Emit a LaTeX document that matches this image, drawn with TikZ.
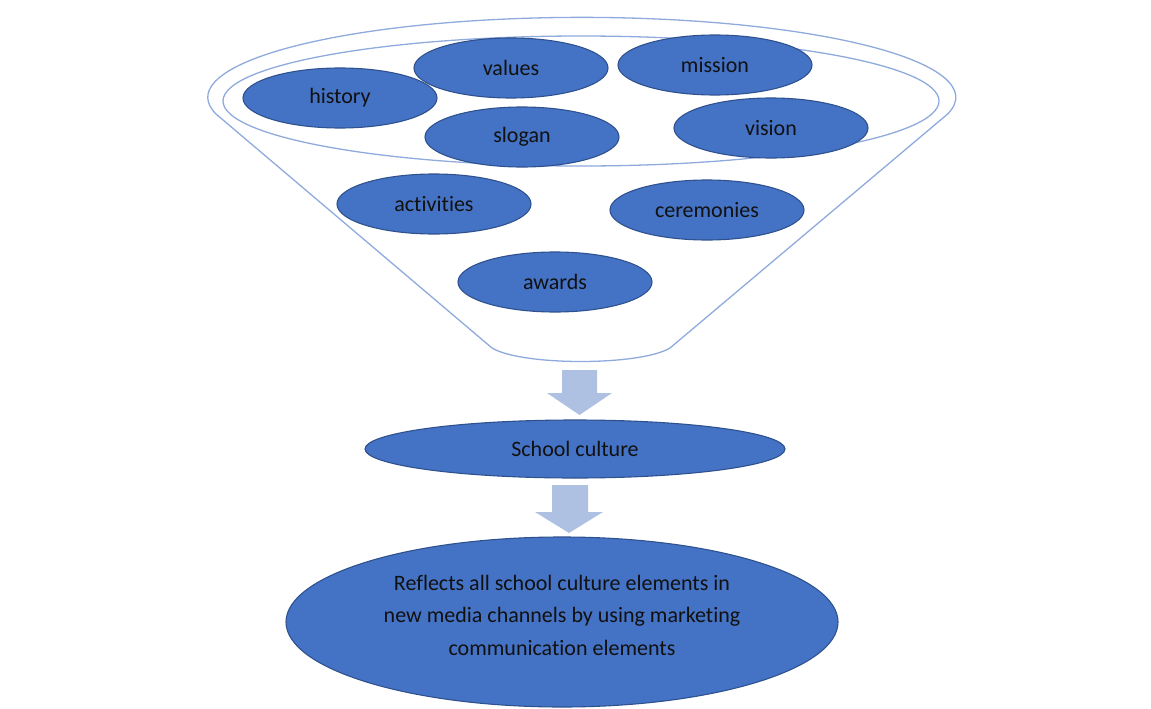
\documentclass[tikz,border=0pt]{standalone}
\usepackage{fontspec}
\setmainfont{Carlito}[Ligatures=NoCommon]
\usetikzlibrary{shapes.geometric}
\definecolor{fillblue}{HTML}{4472C4}
\definecolor{edgeblue}{HTML}{2F528F}
\definecolor{rimblue}{HTML}{8FAADC}
\definecolor{arrowblue}{HTML}{AFC1E3}
\definecolor{txt}{HTML}{111111}
\tikzset{
  elem/.style={ellipse, draw=edgeblue, fill=fillblue, line width=1.1pt, inner sep=0pt,
    minimum width=194pt, minimum height=60pt, text=txt, font=\fontsize{22}{27}\selectfont},
  rim/.style={draw=rimblue, line width=1.3pt},
  blockarrow/.style={fill=arrowblue, draw=none},
}
\begin{document}
\begin{tikzpicture}[x=1pt,y=-1pt]
\useasboundingbox (0,0) rectangle (1151,709);
% funnel outline
\draw[rim] (216,114) arc[start angle=192, end angle=-12, x radius=374, y radius=-80]
  -- (670,348) .. controls (640,366) and (522,366) .. (492,348) -- cycle;
% inner rim
\draw[rim] (581,101) ellipse[x radius=358, y radius=65];
% elements
\node[elem] (history) at (340,98) {history};
\node[elem] (values) at (511,68) {values};
\node[elem] (mission) at (715,65) {mission};
\node[elem] (slogan) at (522,137) {slogan};
\node[elem] (vision) at (771,128) {vision};
\node[elem] (activities) at (434,204) {activities};
\node[elem] (ceremonies) at (707,210) {ceremonies};
\node[elem] (awards) at (555,282) {awards};
% school culture
\node[elem, minimum width=420pt, minimum height=58pt] (culture) at (575,449) {School culture};
% result
\node[elem, minimum width=552pt, minimum height=170pt] (result) at (562,622) {};
\node[text=txt, align=center, inner sep=0pt, font=\fontsize{22}{32.5}\selectfont]
  (resulttext) at ([yshift=7pt]result.center)
  {Reflects all school culture elements in\\new media channels by using marketing\\communication elements};
% block arrows
\fill[blockarrow] (562,370) -- (597,370) -- (597,393) -- (612,393) -- (579.5,415)
  -- (547,393) -- (562,393) -- cycle;
\fill[blockarrow] (552,485) -- (588,485) -- (588,512) -- (603,512) -- (569,533)
  -- (535,512) -- (552,512) -- cycle;
\end{tikzpicture}
\end{document}
